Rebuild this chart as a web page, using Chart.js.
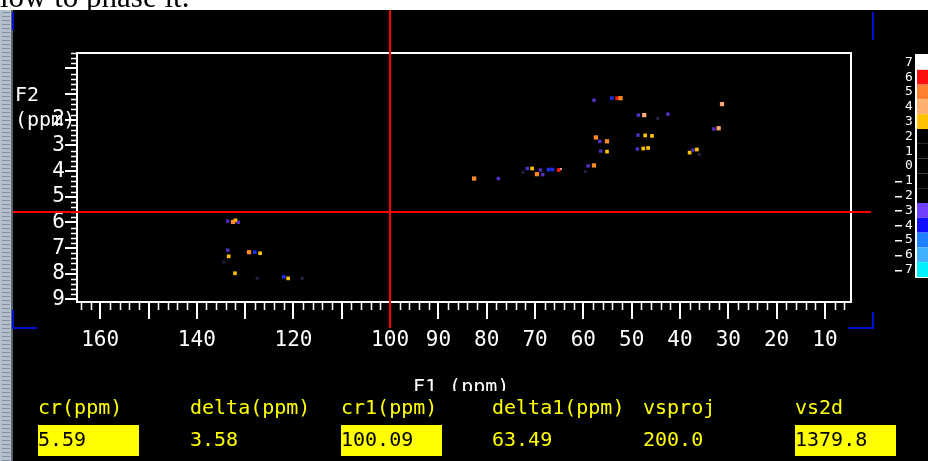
<!DOCTYPE html>
<html>
<head>
<meta charset="utf-8">
<script src="https://cdn.jsdelivr.net/npm/chart.js@4/dist/chart.umd.min.js"></script>
<style>
  html, body { margin: 0; padding: 0; background: #000; }
  canvas { display: block; }
</style>
</head>
<body>
<canvas id="hsqc" width="928" height="461"></canvas>
<script>
// F1 (13C) on x, F2 (1H) on y, both in ppm
const xMajorTicks = [160, 150, 140, 130, 120, 110, 100, 90, 80, 70, 60, 50, 40, 30, 20, 10];
const xLabelled = [160, 140, 120, 100, 90, 80, 70, 60, 50, 40, 30, 20, 10];
const yMajorTicks = [0, 1, 2, 3, 4, 5, 6, 7, 8, 9];
const yLabelled = [2, 3, 4, 5, 6, 7, 8, 9];

// contour levels shown on the colour bar (top to bottom)
const contourLevels = [7, 6, 5, 4, 3, 2, 1, 0, -1, -2, -3, -4, -5, -6, -7];
const contourColors = ['#ffffff', '#ff1010', '#ff8030', '#ffb070', '#ffc000',
  '#000000', '#000000', '#000000', '#000000', '#000000',
  '#7040ff', '#1010ff', '#2080ff', '#40b0ff', '#00f0ff'];

// cross-peaks, grouped by contour colour
const purplePeaks = [
  {x: 57.8, y: 1.24}, {x: 48.6, y: 1.82}, {x: 42.5, y: 1.78}, {x: 33.0, y: 2.36},
  {x: 56.6, y: 2.84}, {x: 56.4, y: 3.22}, {x: 48.7, y: 2.60}, {x: 48.8, y: 3.14},
  {x: 37.3, y: 3.18}, {x: 77.6, y: 4.29}, {x: 71.6, y: 3.90}, {x: 68.9, y: 3.96},
  {x: 68.4, y: 4.14}, {x: 59.0, y: 3.80}, {x: 133.6, y: 5.95}, {x: 133.6, y: 7.08},
  {x: 131.4, y: 6.00}
];
const bluePeaks = [
  {x: 54.1, y: 1.16}, {x: 66.4, y: 3.94}, {x: 67.2, y: 3.94}, {x: 128.0, y: 7.16},
  {x: 122.0, y: 8.12}
];
const orangePeaks = [
  {x: 52.3, y: 1.16}, {x: 57.4, y: 2.69}, {x: 55.1, y: 2.84}, {x: 69.6, y: 4.12},
  {x: 82.6, y: 4.29}, {x: 57.8, y: 3.78}, {x: 132.5, y: 5.98}, {x: 129.2, y: 7.16}
];
const peachPeaks = [{x: 47.4, y: 1.82}, {x: 31.3, y: 1.39}, {x: 32.0, y: 2.33}];
const yellowPeaks = [
  {x: 55.1, y: 3.24}, {x: 47.2, y: 2.61}, {x: 45.8, y: 2.63}, {x: 47.6, y: 3.12},
  {x: 46.6, y: 3.10}, {x: 36.5, y: 3.16}, {x: 38.0, y: 3.28}, {x: 70.6, y: 3.90},
  {x: 133.4, y: 7.32}, {x: 126.9, y: 7.20}, {x: 132.1, y: 7.98}, {x: 121.1, y: 8.18},
  {x: 132.0, y: 5.92}
];
const redPeaks = [{x: 53.0, y: 1.16}, {x: 65.1, y: 3.96}];
const whitePeaks = [{x: 64.7, y: 3.92}];
const noiseSpecks = [
  {x: 127.5, y: 8.18}, {x: 118.2, y: 8.18}, {x: 59.6, y: 4.02}, {x: 44.6, y: 1.95},
  {x: 134.4, y: 7.55}, {x: 36.0, y: 3.35}, {x: 72.5, y: 4.05}
];

// crosshair cursor position and parameter panel
const cursorF2 = 5.59;
const cursorF1 = 100.09;
const paramNames = ['cr(ppm)', 'delta(ppm)', 'cr1(ppm)', 'delta1(ppm)', 'vsproj', 'vs2d'];
const paramValues = ['5.59', '3.58', '100.09', '63.49', '200.0', '1379.8'];
const paramBoxed = [true, false, true, false, false, true];

const monoFont = 'DejaVu Sans Mono';

function peakSet(data, color, r) {
  return { data: data, backgroundColor: color, borderWidth: 0, pointStyle: 'rect', pointRadius: r, pointHoverRadius: r };
}

const decor = {
  id: 'decor',
  beforeDraw(chart) {
    const c = chart.ctx;
    c.save();
    c.fillStyle = '#000';
    c.fillRect(0, 0, chart.width, chart.height);
    // page text strip above the window
    c.fillStyle = '#fff';
    c.fillRect(0, 0, chart.width, 10);
    c.fillStyle = '#000';
    c.font = '31px "Liberation Serif"';
    c.textBaseline = 'alphabetic';
    c.fillText('low to phase it.', 0, 7);
    // scrollbar on the left
    c.fillStyle = '#b4c0cc';
    c.fillRect(0, 10, 12, chart.height - 10);
    c.fillStyle = '#8090a0';
    for (let y = 12; y < chart.height; y += 4) c.fillRect(2, y, 8, 1);
    c.fillStyle = '#5a6470';
    c.fillRect(11, 10, 2, chart.height - 10);
    c.restore();
  },
  afterDraw(chart) {
    const c = chart.ctx;
    const a = chart.chartArea;
    const xs = chart.scales.x, ys = chart.scales.y;
    c.save();
    // frame
    c.strokeStyle = '#fff';
    c.lineWidth = 2;
    c.strokeRect(a.left, a.top, a.right - a.left, a.bottom - a.top);
    // minor ticks
    c.lineWidth = 1.5;
    c.beginPath();
    for (let v = 6; v <= 164; v += 2) {
      if (v % 10 === 0) continue;
      const px = Math.round(xs.getPixelForValue(v)) + 0.5;
      c.moveTo(px, a.bottom);
      c.lineTo(px, a.bottom + 8);
    }
    for (let i = -3; i <= 45; i++) {
      if (i % 5 === 0) continue;
      const py = Math.round(ys.getPixelForValue(i / 5)) + 0.5;
      c.moveTo(a.left - 6, py);
      c.lineTo(a.left, py);
    }
    c.stroke();

    // axis titles
    c.fillStyle = '#fff';
    c.font = '20px "' + monoFont + '"';
    c.textAlign = 'left';
    c.textBaseline = 'middle';
    c.fillText('F2', 15, 96);
    c.fillText('(ppm)', 15, 121);
    c.save();
    c.beginPath();
    c.rect(380, 370, 160, 21);
    c.clip();
    c.fillText('F1 (ppm)', 413, 388);
    c.restore();

    // colour bar
    const barTop = 55, band = 14.8;
    c.fillStyle = '#fff';
    c.fillRect(915, barTop - 1, 13, band * contourColors.length + 2);
    contourColors.forEach((col, i) => {
      c.fillStyle = col;
      c.fillRect(917, barTop + i * band, 11, band);
    });
    c.fillStyle = '#fff';
    c.font = '13px "' + monoFont + '"';
    c.textAlign = 'center';
    contourLevels.forEach((lv, i) => {
      const cy = barTop + i * band + band / 2;
      c.fillText(String(Math.abs(lv)), 909, cy);
      if (lv < 0) c.fillRect(895, Math.round(cy), 7, 1.5);
    });

    // corner markers of the display window
    c.strokeStyle = '#0010d0';
    c.lineWidth = 2;
    c.beginPath();
    c.moveTo(13, 310); c.lineTo(13, 328); c.lineTo(37, 328);
    c.moveTo(848, 328); c.lineTo(873, 328); c.lineTo(873, 312);
    c.moveTo(873, 12); c.lineTo(873, 40);
    c.moveTo(13, 12); c.lineTo(13, 30);
    c.stroke();

    // crosshair cursor
    const cx = Math.round(xs.getPixelForValue(cursorF1));
    const cy = Math.round(ys.getPixelForValue(cursorF2));
    c.strokeStyle = '#ff0000';
    c.lineWidth = 2;
    c.beginPath();
    c.moveTo(cx, 10); c.lineTo(cx, 328);
    c.moveTo(13, cy); c.lineTo(871, cy);
    c.stroke();

    // parameter panel
    const colX = [38, 190, 341, 492, 643, 795];
    c.font = '20px "' + monoFont + '"';
    c.textAlign = 'left';
    c.textBaseline = 'middle';
    paramNames.forEach((name, i) => {
      c.fillStyle = '#ffff00';
      c.fillText(name, colX[i], 409);
      if (paramBoxed[i]) {
        c.fillStyle = '#ffff00';
        c.fillRect(colX[i], 425, 101, 31);
        c.fillStyle = '#000';
      }
      c.fillText(paramValues[i], colX[i], 441);
    });
    c.restore();
  }
};

const ctx = document.getElementById('hsqc').getContext('2d');
const chart = new Chart(ctx, {
  type: 'scatter',
  data: {
    datasets: [
      peakSet(noiseSpecks, '#20203a', 2.2),
      peakSet(purplePeaks, '#5530c8', 2.4),
      peakSet(bluePeaks, '#1e2ee8', 2.6),
      peakSet(peachPeaks, '#ffa874', 3),
      peakSet(orangePeaks, '#ff8a28', 3),
      peakSet(yellowPeaks, '#ffc400', 2.6),
      peakSet(redPeaks, '#ff1a1a', 2.6),
      peakSet(whitePeaks, '#ffffff', 1.5)
    ]
  },
  options: {
    animation: false,
    responsive: false,
    layout: { padding: { left: 0, top: 53, right: 77, bottom: 0 } },
    plugins: { legend: { display: false }, tooltip: { enabled: false } },
    scales: {
      x: {
        type: 'linear',
        reverse: true,
        min: 4.6,
        max: 164.8,
        afterFit: s => { s.height = 159; },
        afterBuildTicks: s => { s.ticks = xMajorTicks.map(v => ({ value: v })); },
        ticks: {
          color: '#fff',
          font: { family: monoFont, size: 21 },
          padding: 9,
          autoSkip: false,
          maxRotation: 0,
          callback: v => xLabelled.includes(v) ? String(v) : ''
        },
        grid: { drawOnChartArea: false, color: '#fff', lineWidth: 2, tickLength: 17 },
        border: { color: '#fff', width: 2 }
      },
      y: {
        type: 'linear',
        reverse: true,
        min: -0.6,
        max: 9.1,
        afterFit: s => { s.width = 77; },
        afterBuildTicks: s => { s.ticks = yMajorTicks.map(v => ({ value: v })); },
        ticks: {
          color: '#fff',
          font: { family: monoFont, size: 21 },
          padding: 0,
          autoSkip: false,
          callback: v => yLabelled.includes(v) ? String(v) : ''
        },
        grid: { drawOnChartArea: false, color: '#fff', lineWidth: 2, tickLength: 12 },
        border: { color: '#fff', width: 2 }
      }
    }
  },
  plugins: [decor]
});
</script>
</body>
</html>
